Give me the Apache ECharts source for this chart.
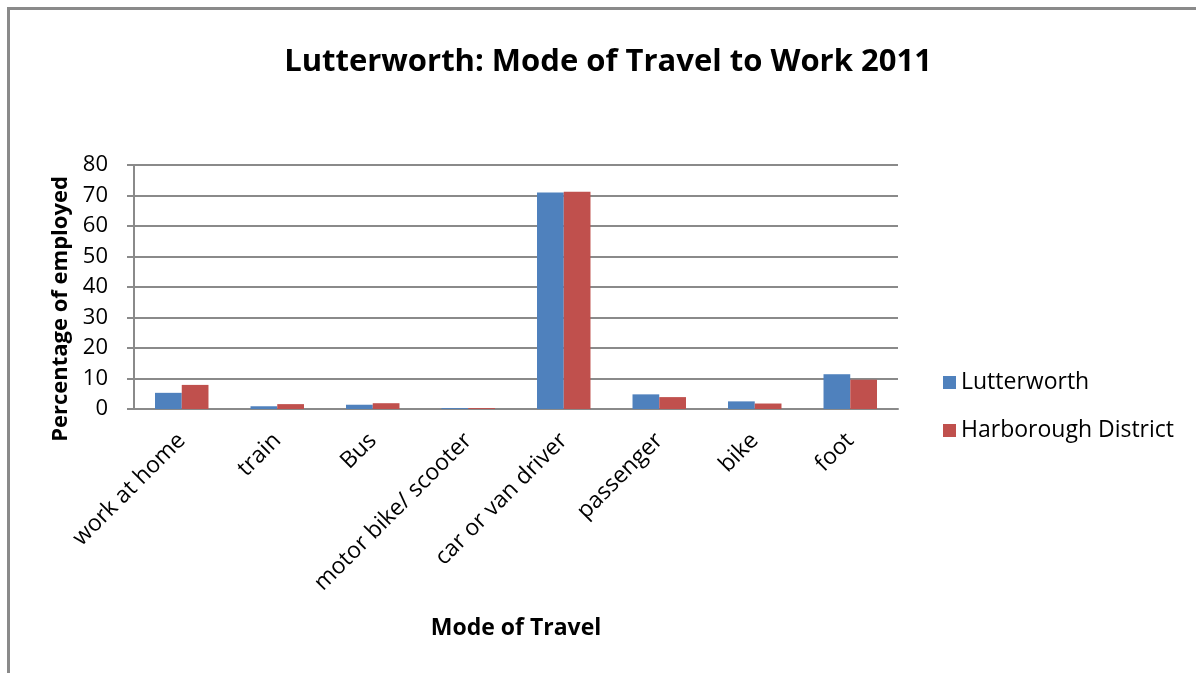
<!DOCTYPE html>
<html>
<head>
<meta charset="utf-8">
<script src="https://cdn.jsdelivr.net/npm/echarts@6/dist/echarts.min.js"></script>
<style>
html,body{margin:0;padding:0;background:#fff;}
#chart{width:1196px;height:673px;}
</style>
</head>
<body>
<div id="chart"></div>
<script>
const categories = ['work at home', 'train', 'Bus', 'motor bike/ scooter', 'car or van driver', 'passenger', 'bike', 'foot'];
const lutterworth = [5.3, 0.9, 1.4, 0.3, 71.0, 4.8, 2.5, 11.4];
const harborough = [7.9, 1.6, 1.9, 0.3, 71.2, 3.9, 1.8, 9.6];
const yTicks = [0, 10, 20, 30, 40, 50, 60, 70, 80];

const FONT = 'Open Sans';
const chart = echarts.init(document.getElementById('chart'));
chart.setOption({
  backgroundColor: '#fff',
  animation: false,
  textStyle: { fontFamily: FONT, color: '#000' },
  graphic: [
    { type: 'line', shape: { x1: 8.5, y1: 8.5, x2: 1196, y2: 8.5 },
      style: { stroke: '#8a8a8a', lineWidth: 3 }, silent: true },
    { type: 'line', shape: { x1: 8.5, y1: 7, x2: 8.5, y2: 673 },
      style: { stroke: '#8a8a8a', lineWidth: 3 }, silent: true }
  ],
  title: {
    text: 'Lutterworth: Mode of Travel to Work 2011',
    left: 603, top: 42, textAlign: 'center',
    textStyle: { fontFamily: FONT, fontSize: 31, fontWeight: 'bold', color: '#000' }
  },
  legend: {
    orient: 'vertical', left: 938, top: 366,
    itemWidth: 13, itemHeight: 13, itemGap: 25,
    icon: 'rect',
    textStyle: { fontFamily: FONT, fontSize: 23, color: '#000' },
    data: ['Lutterworth', 'Harborough District']
  },
  grid: { left: 134, right: 298, top: 165, bottom: 264, containLabel: false },
  xAxis: {
    type: 'category', data: categories,
    name: 'Mode of Travel', nameLocation: 'middle', nameGap: 208,
    nameTextStyle: { fontFamily: FONT, fontSize: 23, fontWeight: 'bold', color: '#000' },
    axisLine: { lineStyle: { color: '#8a8a8a', width: 2 } },
    axisTick: { show: false },
    axisLabel: { rotate: 45, margin: 28, fontSize: 23, color: '#000', fontFamily: FONT, interval: 0 }
  },
  yAxis: {
    type: 'value', min: yTicks[0], max: yTicks[yTicks.length - 1], interval: 10,
    name: 'Percentage of employed', nameLocation: 'middle', nameGap: 60, nameRotate: 90,
    nameTextStyle: { fontFamily: FONT, fontSize: 22, fontWeight: 'bold', color: '#000', padding: [0, 44, 0, 0] },
    axisLine: { show: true, lineStyle: { color: '#8a8a8a', width: 2 } },
    axisTick: { show: true, inside: false, length: 7, lineStyle: { color: '#8a8a8a', width: 2 } },
    axisLabel: { margin: 26, fontSize: 22, color: '#000', fontFamily: FONT },
    splitLine: { show: true, lineStyle: { color: '#8a8a8a', width: 2 } }
  },
  series: [
    { name: 'Lutterworth', type: 'bar', data: lutterworth, barWidth: '28%', barGap: '0%',
      itemStyle: { color: '#4F81BD' } },
    { name: 'Harborough District', type: 'bar', data: harborough, barWidth: '28%', barGap: '0%',
      itemStyle: { color: '#C0504D' } }
  ]
});
</script>
</body>
</html>
